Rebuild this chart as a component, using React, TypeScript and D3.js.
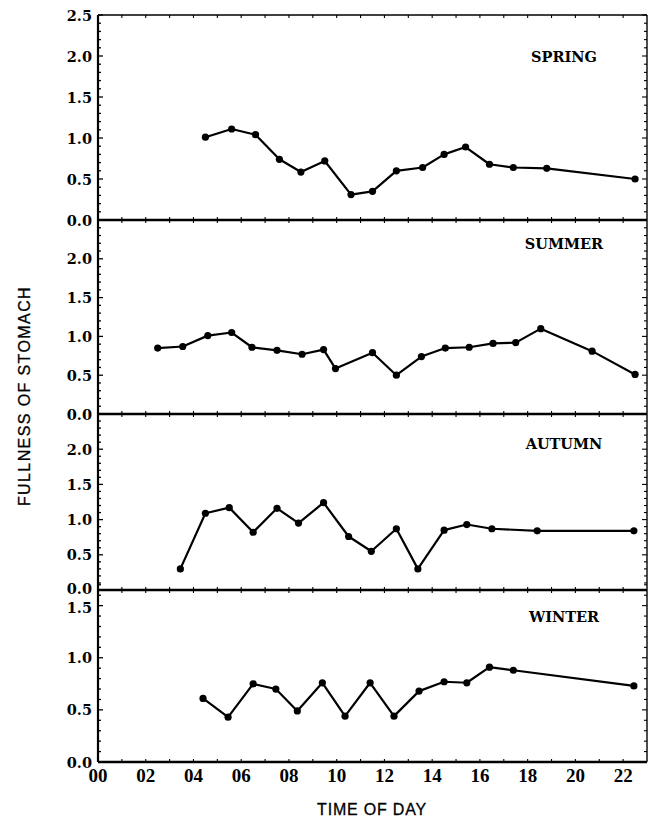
import React from 'react';
import * as d3 from 'd3';

// seasons, top to bottom
const seasons = ['SPRING', 'SUMMER', 'AUTUMN', 'WINTER'];

// hour of sampling / stomach fullness
const springHours = [4.5, 5.6, 6.6, 7.6, 8.5, 9.5, 10.6, 11.5, 12.5, 13.6, 14.5, 15.4, 16.4, 17.4, 18.8, 22.5];
const springFullness = [1.01, 1.11, 1.04, 0.74, 0.585, 0.72, 0.31, 0.35, 0.6, 0.64, 0.8, 0.89, 0.68, 0.64, 0.63, 0.5];

const summerHours = [2.5, 3.55, 4.6, 5.6, 6.45, 7.5, 8.55, 9.45, 9.95, 11.5, 12.5, 13.55, 14.55, 15.55, 16.55, 17.5, 18.55, 20.7, 22.5];
const summerFullness = [0.85, 0.87, 1.01, 1.05, 0.86, 0.82, 0.77, 0.83, 0.585, 0.79, 0.5, 0.74, 0.85, 0.86, 0.91, 0.92, 1.1, 0.81, 0.51];

const autumnHours = [3.45, 4.5, 5.5, 6.5, 7.5, 8.4, 9.45, 10.5, 11.45, 12.5, 13.4, 14.5, 15.45, 16.5, 18.4, 22.45];
const autumnFullness = [0.3, 1.09, 1.17, 0.82, 1.16, 0.95, 1.24, 0.76, 0.55, 0.87, 0.3, 0.85, 0.93, 0.87, 0.84, 0.84];

const winterHours = [4.4, 5.45, 6.5, 7.45, 8.35, 9.4, 10.35, 11.4, 12.4, 13.45, 14.5, 15.45, 16.4, 17.4, 22.45];
const winterFullness = [0.61, 0.43, 0.75, 0.7, 0.49, 0.76, 0.44, 0.76, 0.44, 0.68, 0.77, 0.76, 0.91, 0.88, 0.73];

const seriesHours = [springHours, summerHours, autumnHours, winterHours];
const seriesFullness = [springFullness, summerFullness, autumnFullness, winterFullness];

// y domain top of each panel and its tick labels
const panelMax = [2.5, 2.5, 2.5, 1.65];
const panelTicks = [
  [0, 0.5, 1.0, 1.5, 2.0, 2.5],
  [0, 0.5, 1.0, 1.5, 2.0],
  [0, 0.5, 1.0, 1.5, 2.0],
  [0, 0.5, 1.0, 1.5],
];
const hourTicks = [0, 2, 4, 6, 8, 10, 12, 14, 16, 18, 20, 22];

const W = 654;
const H = 818;
const left = 98;
const right = 647;
const edges = [15, 220, 414, 590, 762]; // panel top/bottom pixel rows

const serif = '"DejaVu Serif", serif';
const sans = '"Liberation Sans", Arial, sans-serif';

export default function App() {
  const x = d3.scaleLinear().domain([0, 23]).range([left, right]);
  const minorHours = d3.range(1, 23);

  const panels = seasons.map((name, i) => {
    const top = edges[i];
    const bottom = edges[i + 1];
    const y = d3.scaleLinear().domain([0, panelMax[i]]).range([bottom, top]);
    const pts = seriesHours[i].map((h, k) => [h, seriesFullness[i][k]] as [number, number]);
    const line = d3.line<[number, number]>().x(d => x(d[0])).y(d => y(d[1]));
    const minor = d3.range(0, Math.round(panelMax[i] * 10) + 1).map(k => k / 10);

    return (
      <g key={name}>
        {/* y ticks, left and right, pointing inward */}
        {minor.map(v => {
          const major = Math.round(v * 10) % 5 === 0;
          const len = major ? 5 : 3;
          return (
            <g key={'t' + v}>
              <line x1={left} x2={left + len} y1={y(v)} y2={y(v)} stroke="#000" strokeWidth={1.3} />
              <line x1={right} x2={right - len} y1={y(v)} y2={y(v)} stroke="#000" strokeWidth={1.1} />
            </g>
          );
        })}
        {/* hour ticks on the panel's top and bottom */}
        {minorHours.map(h => (
          <g key={'h' + h}>
            <line x1={x(h)} x2={x(h)} y1={top} y2={top + 3} stroke="#000" strokeWidth={1.1} />
            <line x1={x(h)} x2={x(h)} y1={bottom} y2={bottom - 3} stroke="#000" strokeWidth={1.1} />
          </g>
        ))}
        {panelTicks[i].map(v => {
          // the stacked 0.0 / 1.5 pair at the last join sits tight in the original
          let dy = 0;
          if (i === 2 && v === 0) dy = -2;
          if (i === 3 && v === 1.5) dy = 2;
          return (
            <text key={'l' + v} x={left - 6} y={y(v) + dy} textAnchor="end" dominantBaseline="central"
              fontFamily={serif} fontWeight="bold" fontSize={14.5} fill="#000">
              {v.toFixed(1)}
            </text>
          );
        })}
        <text x={564} y={[56, 243, 443, 616][i]} textAnchor="middle" dominantBaseline="central"
          fontFamily={serif} fontWeight="bold" fontSize={14.5} fill="#000">
          {name}
        </text>
        <path d={line(pts) || ''} fill="none" stroke="#000" strokeWidth={2.2} strokeLinejoin="round" />
        {pts.map((d, k) => (
          <circle key={k} cx={x(d[0])} cy={y(d[1])} r={3.6} fill="#000" />
        ))}
      </g>
    );
  });

  return (
    <svg width={W} height={H} style={{ position: 'absolute', left: 0, top: 0, background: '#fff' }}>
      <rect x={0} y={0} width={W} height={H} fill="#fff" />
      {panels}
      {/* frame */}
      <line x1={left} x2={right} y1={edges[0]} y2={edges[0]} stroke="#000" strokeWidth={1.6} />
      {edges.slice(1, 4).map(e => (
        <line key={e} x1={left} x2={right} y1={e} y2={e} stroke="#000" strokeWidth={2.4} />
      ))}
      <line x1={left} x2={right} y1={edges[4]} y2={edges[4]} stroke="#000" strokeWidth={2.4} />
      <line x1={left} x2={left} y1={edges[0]} y2={edges[4]} stroke="#000" strokeWidth={2.2} />
      <line x1={right} x2={right} y1={edges[0]} y2={edges[4]} stroke="#000" strokeWidth={1.4} />
      {hourTicks.map(h => (
        <text key={h} x={x(h)} y={782} textAnchor="middle" fontFamily='"Liberation Serif", serif'
          fontWeight="bold" fontSize={19} fill="#000">
          {String(h).padStart(2, '0')}
        </text>
      ))}
      <text x={372} y={815} textAnchor="middle" fontFamily={sans} fontSize={16} letterSpacing={0.8}
        fill="#000" stroke="#000" strokeWidth={0.3}>
        TIME OF DAY
      </text>
      <text transform="translate(30,396) rotate(-90)" textAnchor="middle" fontFamily={sans} fontSize={16}
        letterSpacing={1.4} fill="#000" stroke="#000" strokeWidth={0.3}>
        FULLNESS OF STOMACH
      </text>
    </svg>
  );
}
